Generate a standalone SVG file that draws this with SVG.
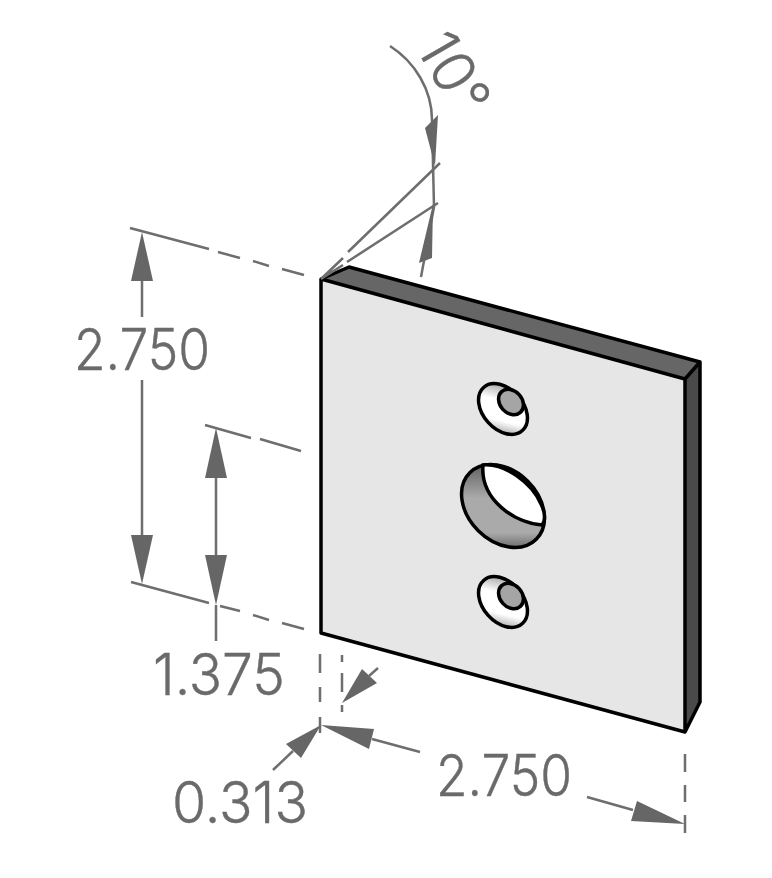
<svg xmlns="http://www.w3.org/2000/svg" width="772" height="878" viewBox="0 0 772 878">
<style>
.dim{stroke:#6e6e6e;stroke-width:2.5;fill:none}
.dash{stroke:#6e6e6e;stroke-width:2.5;fill:none}
.head{fill:#666;stroke:none}
.t{font-family:"Inter","Open Sans",sans-serif;font-weight:300;font-size:58px;fill:#6a6a6a;stroke:#6a6a6a;stroke-width:.4}
.edge{stroke:#000;stroke-width:3.5;stroke-linejoin:round;fill:none}
.hole{stroke:#000;stroke-width:3.5}
</style>
<defs>
<linearGradient id="cs" x1="0" y1="0" x2="1" y2="1"><stop offset="0" stop-color="#777"/><stop offset="0.38" stop-color="#fff"/><stop offset="0.68" stop-color="#fff"/><stop offset="1" stop-color="#777"/></linearGradient>
<linearGradient id="bore2" gradientUnits="userSpaceOnUse" x1="470" y1="472" x2="540" y2="542"><stop offset="0" stop-color="#555"/><stop offset="0.4" stop-color="#aaa"/><stop offset="0.75" stop-color="#aaa"/><stop offset="1" stop-color="#444"/></linearGradient>
</defs>
<rect width="772" height="878" fill="#fff"/>
<g id="plate">
<polygon points="321,279 349,267 700,362 685,379" fill="#666"/>
<polygon points="685,379 700,362 700,702 685,732" fill="#4a4a4a"/>
<polygon points="321,279 685,379 685,732 321,633" fill="#e6e6e6"/>
<path class="edge" d="M321,279 L349,267 L700,362 L700,702 L685,732 L321,633 Z M321,279 L685,379 L685,732 M685,379 L700,362"/>
</g>
<g id="hole-top">
<ellipse class="hole" cx="503" cy="409" rx="29" ry="20" transform="rotate(48 503 409)" fill="url(#cs)"/>
<ellipse class="hole" cx="511" cy="402" rx="14" ry="11" transform="rotate(48 511 402)" fill="#a5a5a5"/>
</g>
<g id="hole-center">
<ellipse class="hole" cx="503" cy="506" rx="47" ry="35" transform="rotate(45 503 506)" fill="url(#bore2)"/>
<path class="hole" fill="#fff" d="M483,465 C505,463 532,483 541,504 C546,514 545,522 542,525 C515,523 480,500 483,465 Z"/>
</g>
<g id="hole-bottom">
<ellipse class="hole" cx="503" cy="602" rx="29" ry="20" transform="rotate(48 503 602)" fill="url(#cs)"/>
<ellipse class="hole" cx="511" cy="596" rx="14" ry="11" transform="rotate(48 511 596)" fill="#a5a5a5"/>
</g>
<g id="connectors">
<path class="dim" d="M142,281 V317 M142,380 V535 M216,478 V555 M216,605 V641"/>
<path class="dash" d="M130,228 L209,249 M218,252 L240,258 M253,261 L269,266 M282,269 L304,275 M131,582 L209,603 M220,606 L240,611 M253,615 L269,620 M282,623 L304,629 M205,425 L251,438 M260,439 L301,451"/>
<polygon class="head" points="142,232 131,281 153,281"/>
<polygon class="head" points="142,584 131,535 153,535"/>
<polygon class="head" points="216,428 205,478 227,478"/>
<polygon class="head" points="216,605 205,555 227,555"/>
<path class="dash" d="M321,279 L343,258 M348,252 L440,163 M321,279 L343,265 M347,262 L438,203"/>
<path class="dim" d="M390,46 C415,62 432,90 432,120 L434,207 L421,277"/>
<polygon class="head" points="435,166 425,128 438,115"/>
<polygon class="head" points="433,204 419,263 432,258"/>
<path class="dash" d="M320,654 V673 M320,687 V702 M320,717 V733 M342,655 V662 M342,673 V692 M342,705 V712 M685,754 V772 M685,785 V802 M685,815 V833"/>
<polygon class="head" points="342,703 362,669 377,683"/>
<path class="dim" d="M369,676 L378,668"/>
<polygon class="head" points="321,725 286,744 301,758"/>
<path class="dim" d="M293,751 L273,770"/>
<polygon class="head" points="321,725 374,729 369,749"/>
<path class="dim" d="M372,739 L420,752 M587,797 L633,810"/>
<polygon class="head" points="685,824 631,821 637,801"/>
</g>
<g id="labels">
<text class="t" x="74" y="370" textLength="136" lengthAdjust="spacingAndGlyphs">2.750</text>
<text class="t" x="153" y="695" textLength="132" lengthAdjust="spacingAndGlyphs">1.375</text>
<text class="t" x="172" y="823" textLength="136" lengthAdjust="spacingAndGlyphs">0.313</text>
<text class="t" x="436" y="796" textLength="136" lengthAdjust="spacingAndGlyphs">2.750</text>
<text class="t" transform="translate(415,47) rotate(60)">10°</text>
</g>
</svg>
